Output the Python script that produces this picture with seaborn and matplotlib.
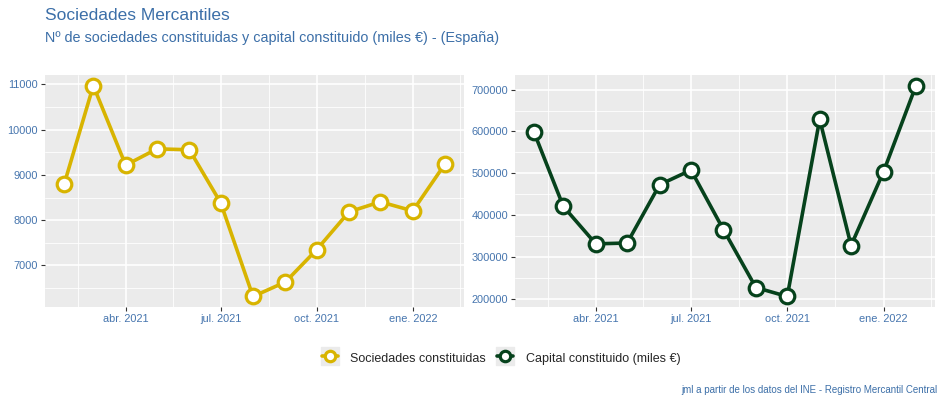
import matplotlib
matplotlib.use("Agg")
import matplotlib.pyplot as plt
from matplotlib.lines import Line2D
from matplotlib.legend_handler import HandlerTuple
import pandas as pd
import seaborn as sns

# datos mensuales (feb. 2021 - feb. 2022)
meses = pd.date_range("2021-02-01", "2022-02-01", freq="MS")
sociedades = [8790, 10970, 9215, 9575, 9555, 8385, 6315, 6635, 7350, 8185, 8405, 8205, 9245]
capital = [598000, 420500, 331000, 333000, 472500, 507500, 365000, 226500, 205000, 629000, 327000, 503500, 709500]

etiquetas_x = ["abr. 2021", "jul. 2021", "oct. 2021", "ene. 2022"]
fechas_x = pd.to_datetime(["2021-04-01", "2021-07-01", "2021-10-01", "2022-01-01"])
fechas_menor = pd.to_datetime(["2021-02-14", "2021-05-16", "2021-08-16", "2021-11-16", "2022-02-15"])

ticks_soc = [7000, 8000, 9000, 10000, 11000]
ticks_cap = [200000, 300000, 400000, 500000, 600000, 700000]

color_soc = "#D8B400"
color_cap = "#06421C"
azul = "#3C6FA8"
azul_ticks = "#4675AE"

df = pd.DataFrame({"fecha": meses, "sociedades": sociedades, "capital": capital})

sns.set_theme(style="darkgrid")
plt.rcParams["font.family"] = ["Liberation Sans", "DejaVu Sans"]

fig = plt.figure(figsize=(9.44, 4.04), dpi=100)
ax1 = fig.add_axes([0.0477, 0.240, 0.444, 0.574])
ax2 = fig.add_axes([0.5455, 0.240, 0.445, 0.574])

paneles = [
    (ax1, "sociedades", color_soc, ticks_soc),
    (ax2, "capital", color_cap, ticks_cap),
]

for ax, columna, color, ticks in paneles:
    ax.set_facecolor("#EBEBEB")
    sns.lineplot(
        data=df, x="fecha", y=columna, ax=ax, color=color,
        linewidth=2.6, marker="o", markersize=10.5,
        markerfacecolor="white", markeredgecolor=color, markeredgewidth=2.3,
        zorder=3,
    )

    ax.set_xticks(fechas_x)
    ax.set_xticklabels(etiquetas_x)
    ax.set_xticks(fechas_menor, minor=True)
    ax.set_yticks(ticks)
    ax.set_yticklabels([str(t) for t in ticks])
    paso = ticks[1] - ticks[0]
    ax.set_yticks([t + paso / 2 for t in [ticks[0] - paso] + ticks], minor=True)

    # limites al final: set_yticks amplia la vista si hace falta
    valores = df[columna]
    rango = valores.max() - valores.min()
    ax.set_ylim(valores.min() - 0.05 * rango, valores.max() + 0.05 * rango)
    dias = df["fecha"].max() - df["fecha"].min()
    ax.set_xlim(df["fecha"].min() - dias * 0.05, df["fecha"].max() + dias * 0.05)

    ax.grid(which="major", color="white", linewidth=1.2)
    ax.grid(which="minor", color="white", linewidth=0.6)
    ax.tick_params(axis="both", which="major", labelsize=7.9, labelcolor=azul_ticks,
                   length=3, width=0.8, color="#333333", pad=2, bottom=True, left=True)
    ax.tick_params(axis="both", which="minor", length=0)
    ax.set_xlabel("")
    ax.set_ylabel("")
    for lado in ax.spines.values():
        lado.set_visible(False)

fig.text(0.0477, 0.962, "Sociedades Mercantiles", fontsize=12.5, color=azul, va="center")
fig.text(0.0477, 0.905, "Nº de sociedades constituidas y capital constituido (miles €) - (España)",
         fontsize=10.4, color=azul, va="center")


def clave(color):
    fondo = Line2D([], [], marker="s", markersize=12.5, color="#EBEBEB", linestyle="none")
    linea = Line2D([], [], color=color, lw=2.6, marker="o", markersize=7.5,
                   markerfacecolor="white", markeredgewidth=2.3)
    return (fondo, linea)


fig.legend([clave(color_soc), clave(color_cap)],
           ["Sociedades constituidas", "Capital constituido (miles €)"],
           handler_map={tuple: HandlerTuple(ndivide=1)}, loc="center",
           bbox_to_anchor=(0.531, 0.114), ncol=2, frameon=False, fontsize=9,
           handlelength=1.25, handleheight=1.3, handletextpad=1.0, columnspacing=0.9)

fig.text(0.993, 0.035, "jml a partir de los datos del INE - Registro Mercantil Central",
         fontsize=7, color=azul, ha="right", va="center")

fig.savefig("out.png", dpi=100)
